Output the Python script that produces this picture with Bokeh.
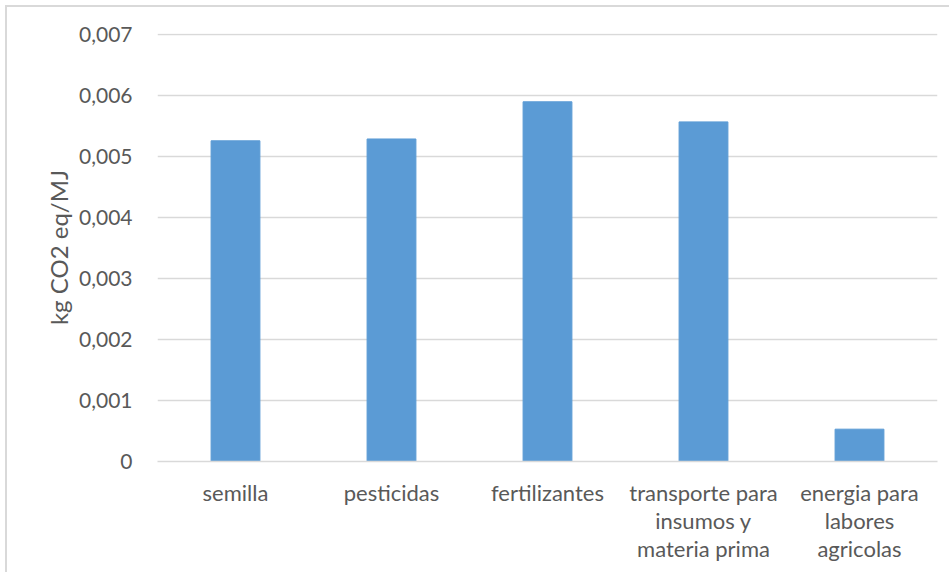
from bokeh.plotting import figure
from bokeh.models import FixedTicker, CustomJSTickFormatter, ColumnDataSource
from bokeh.embed import file_html
from bokeh.resources import INLINE

categories = ["semilla", "pesticidas", "fertilizantes",
              "transporte para\ninsumos y\nmateria prima",
              "energia para\nlabores\nagricolas"]
values = [0.00526, 0.00529, 0.00590, 0.00557, 0.00053]
y_ticks = [0, 0.001, 0.002, 0.003, 0.004, 0.005, 0.006, 0.007]

FONT = "Lato"
GREY = "#595959"

src = ColumnDataSource(dict(cat=categories, val=values))

p = figure(x_range=categories, y_range=(0, 0.00702), width=944, height=567,
           output_backend="svg", toolbar_location=None,
           min_border_left=150, min_border_right=14, min_border_top=26,
           min_border_bottom=113)
p.styles = {"margin-left": "5px", "margin-top": "5px",
            "border-left": "2px solid #d9d9d9", "border-top": "2px solid #d9d9d9"}

p.vbar(x="cat", top="val", width=0.313, source=src, color="#5b9bd5")

p.outline_line_color = None
p.xgrid.grid_line_color = None
p.ygrid.grid_line_color = "#d9d9d9"
p.ygrid.grid_line_width = 1.5

p.yaxis.ticker = FixedTicker(ticks=y_ticks)
p.yaxis.formatter = CustomJSTickFormatter(
    code='return tick == 0 ? "0" : tick.toFixed(3).replace(".", ",");')
p.yaxis.axis_line_color = None
p.yaxis.major_tick_line_color = None
p.yaxis.minor_tick_line_color = None
p.yaxis.major_label_text_font = FONT
p.yaxis.major_label_text_font_size = "21px"
p.yaxis.major_label_text_color = GREY
p.yaxis.major_label_standoff = 19
p.yaxis.axis_label = "kg CO2 eq/MJ"
p.yaxis.axis_label_text_font = FONT
p.yaxis.axis_label_text_font_size = "24px"
p.yaxis.axis_label_text_font_style = "normal"
p.yaxis.axis_label_text_color = GREY
p.yaxis.axis_label_standoff = 3

p.xaxis.axis_line_color = "#d9d9d9"
p.xaxis.axis_line_width = 1.5
p.xaxis.major_tick_line_color = None
p.xaxis.minor_tick_line_color = None
p.xaxis.major_label_text_font = FONT
p.xaxis.major_label_text_font_size = "22px"
p.xaxis.major_label_text_color = GREY
p.xaxis.major_label_text_line_height = 1.05
p.xaxis.major_label_standoff = 11

open("out.html", "w").write(file_html(p, INLINE))
